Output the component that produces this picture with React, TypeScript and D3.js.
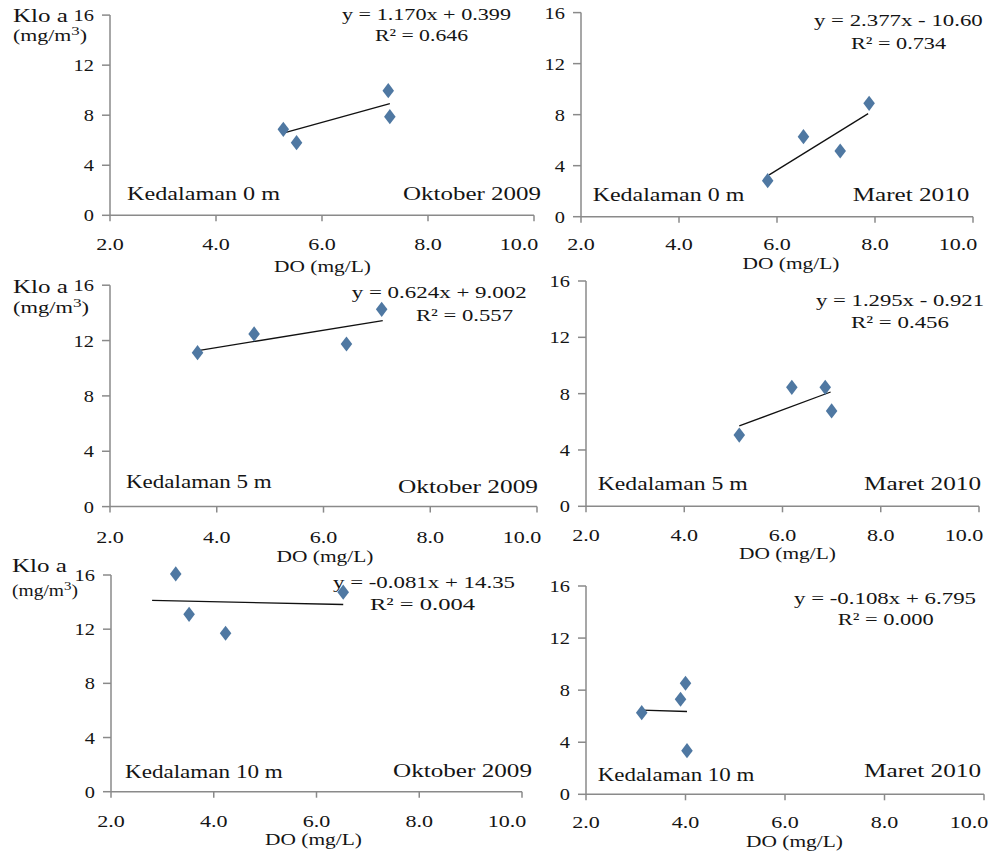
import React from 'react';
import * as d3 from 'd3';

// ---- Data ----
const doOkt0 = [5.27, 5.52, 7.25, 7.28];
const kloOkt0 = [6.87, 5.8, 9.96, 7.88];
const doMar0 = [5.81, 6.54, 7.29, 7.88];
const kloMar0 = [2.82, 6.27, 5.15, 8.89];
const doOkt5 = [3.64, 4.7, 6.43, 7.09];
const kloOkt5 = [11.12, 12.48, 11.75, 14.26];
const doMar5 = [5.12, 6.19, 6.87, 7.0];
const kloMar5 = [5.06, 8.45, 8.45, 6.77];
const doOkt10 = [3.26, 3.52, 4.23, 6.52];
const kloOkt10 = [16.08, 13.1, 11.7, 14.73];
const doMar10 = [3.12, 3.9, 4.0, 4.03];
const kloMar10 = [6.27, 7.3, 8.53, 3.35];

const slopes = [1.17, 2.377, 0.624, 1.295, -0.081, -0.108];
const intercepts = [0.399, -10.6, 9.002, -0.921, 14.35, 6.795];
const trendFrom = [5.25, 5.84, 3.62, 5.12, 2.8, 3.12];
const trendTo = [7.28, 7.86, 7.11, 6.98, 6.52, 4.03];

const equationLabels = [
  'y = 1.170x + 0.399',
  'y = 2.377x - 10.60',
  'y = 0.624x + 9.002',
  'y = 1.295x - 0.921',
  'y = -0.081x + 14.35',
  'y = -0.108x + 6.795',
];
const r2Labels = ['R² = 0.646', 'R² = 0.734', 'R² = 0.557', 'R² = 0.456', 'R² = 0.004', 'R² = 0.000'];
const depthLabels = ['Kedalaman 0 m', 'Kedalaman 0 m', 'Kedalaman 5 m', 'Kedalaman 5 m', 'Kedalaman 10 m', 'Kedalaman 10 m'];
const periodLabels = ['Oktober 2009', 'Maret 2010', 'Oktober 2009', 'Maret 2010', 'Oktober 2009', 'Maret 2010'];
const xTicks = [2, 4, 6, 8, 10];
const yTicks = [0, 4, 8, 12, 16];
const xAxisTitle = 'DO (mg/L)';
const yAxisTitle = 'Klo a';

const seriesX = [doOkt0, doMar0, doOkt5, doMar5, doOkt10, doMar10];
const seriesY = [kloOkt0, kloMar0, kloOkt5, kloMar5, kloOkt10, kloMar10];

// ---- Layout (pixel positions of each panel) ----
const layout = [
  { x0: 110, x1: 534, yb: 215.3, yt: 15.1, xlY: 250, dep: [127, 200, 153], per: [541, 200, 138], eq: [342, 20, 169], r2: [375, 41, 93], dox: [322.5, 272], ylab: [13, 22, 41, 74] },
  { x0: 581, x1: 973, yb: 216.7, yt: 12.6, xlY: 250, dep: [592.7, 201, 151.6], per: [969.3, 201, 116.6], eq: [814, 26, 168.7], r2: [851, 49, 95], dox: [791, 269], ylab: null },
  { x0: 110, x1: 537, yb: 506.6, yt: 285.2, xlY: 543, dep: [126, 488, 145.7], per: [538, 493, 140], eq: [351.7, 298, 175], r2: [416, 321, 97], dox: [325, 562], ylab: [13, 293, 313, 76] },
  { x0: 586, x1: 979, yb: 506.3, yt: 281, xlY: 541, dep: [597.7, 490, 150], per: [981, 490, 117], eq: [816, 306, 168], r2: [851, 328, 98], dox: [787.5, 559], ylab: null },
  { x0: 111, x1: 522, yb: 791.7, yt: 575, xlY: 827, dep: [125, 778, 157.7], per: [532, 777, 139], eq: [333, 588, 182], r2: [370, 610, 105], dox: [313.5, 845], ylab: [12, 572, 596, 66] },
  { x0: 586, x1: 984, yb: 794.3, yt: 586, xlY: 828, dep: [597.7, 781, 156.7], per: [981, 777, 117], eq: [794, 604, 182], r2: [837.7, 625, 96], dox: [794.5, 847], ylab: null },
];

const FONT = "'Liberation Serif', 'Times New Roman', Times, serif";
const TXT = '#141414';
const AXIS = '#8a8a8a';
const MARK = '#4f78a2';

function Stretch({ x, y, sx, anchor = 'start', size = 17, children }: any) {
  return (
    <text
      transform={`translate(${x},${y}) scale(${sx},1)`}
      textAnchor={anchor}
      fontSize={size}
      fontFamily={FONT}
      fill={TXT}
    >
      {children}
    </text>
  );
}

function Fit({ x, y, w, anchor = 'start', size = 17, children }: any) {
  return (
    <text
      x={x}
      y={y}
      textAnchor={anchor}
      fontSize={size}
      fontFamily={FONT}
      fill={TXT}
      textLength={w}
      lengthAdjust="spacingAndGlyphs"
    >
      {children}
    </text>
  );
}

function Panel({ i }: { i: number }) {
  const L = layout[i];
  const xs = d3.scaleLinear().domain([2, 10]).range([L.x0, L.x1]);
  const ys = d3.scaleLinear().domain([0, 16]).range([L.yb, L.yt]);
  const xv = seriesX[i];
  const yv = seriesY[i];
  const diamond = d3.symbol().type(d3.symbolDiamond).size(74)();
  const line = d3.line<number>()
    .x((d) => xs(d))
    .y((d) => ys(slopes[i] * d + intercepts[i]));
  return (
    <g>
      {/* axes */}
      <line x1={L.x0} x2={L.x0} y1={ys(16)} y2={ys(0)} stroke={AXIS} strokeWidth={1.5} />
      <line x1={L.x0} x2={L.x1} y1={ys(0)} y2={ys(0)} stroke={AXIS} strokeWidth={1.5} />
      {yTicks.map((t) => (
        <g key={'y' + t}>
          <line x1={L.x0 - 8} x2={L.x0} y1={ys(t)} y2={ys(t)} stroke={AXIS} strokeWidth={1.5} />
          <Stretch x={L.x0 - 16} y={ys(t) + 6} sx={1.2} anchor="end">{String(t)}</Stretch>
        </g>
      ))}
      {xTicks.map((t, k) => (
        <g key={'x' + t}>
          <line x1={xs(t)} x2={xs(t)} y1={ys(0)} y2={ys(0) + 6} stroke={AXIS} strokeWidth={1.5} />
          <Stretch x={xs(t) + (k === xTicks.length - 1 ? -15 : 0)} y={L.xlY} sx={1.3} anchor="middle">
            {d3.format('.1f')(t)}
          </Stretch>
        </g>
      ))}
      {/* trend line */}
      <path d={line([trendFrom[i], trendTo[i]]) || ''} stroke="#111" strokeWidth={1.3} fill="none" />
      {/* points */}
      {xv.map((x, k) => (
        <path
          key={k}
          d={diamond || ''}
          transform={`translate(${xs(x)},${ys(yv[k])}) scale(1.25,0.95)`}
          fill={MARK}
        />
      ))}
      {/* annotations */}
      <Fit x={L.dep[0]} y={L.dep[1]} w={L.dep[2]} size={18}>{depthLabels[i]}</Fit>
      <Fit x={L.per[0]} y={L.per[1]} w={L.per[2]} size={18} anchor="end">{periodLabels[i]}</Fit>
      <Fit x={L.eq[0]} y={L.eq[1]} w={L.eq[2]} size={17}>{equationLabels[i]}</Fit>
      <Fit x={L.r2[0]} y={L.r2[1]} w={L.r2[2]} size={17}>{r2Labels[i]}</Fit>
      <Stretch x={L.dox[0]} y={L.dox[1]} sx={1.26} anchor="middle" size={17}>{xAxisTitle}</Stretch>
      {L.ylab && (
        <g>
          <Fit x={L.ylab[0]} y={L.ylab[1]} w={55} size={18}>{yAxisTitle}</Fit>
          <text
            x={L.ylab[0]}
            y={L.ylab[2]}
            fontSize={17}
            fontFamily={FONT}
            fill={TXT}
            textLength={L.ylab[3]}
            lengthAdjust="spacingAndGlyphs"
          >
            (mg/m
            <tspan dy={-6} fontSize={13}>3</tspan>
            <tspan dy={6}>)</tspan>
          </text>
        </g>
      )}
    </g>
  );
}

export default function App() {
  return (
    <svg
      width={992}
      height={854}
      style={{ position: 'absolute', left: 0, top: 0, background: '#fff' }}
    >
      <rect width={992} height={854} fill="#fff" />
      {layout.map((_, i) => (
        <Panel key={i} i={i} />
      ))}
    </svg>
  );
}
